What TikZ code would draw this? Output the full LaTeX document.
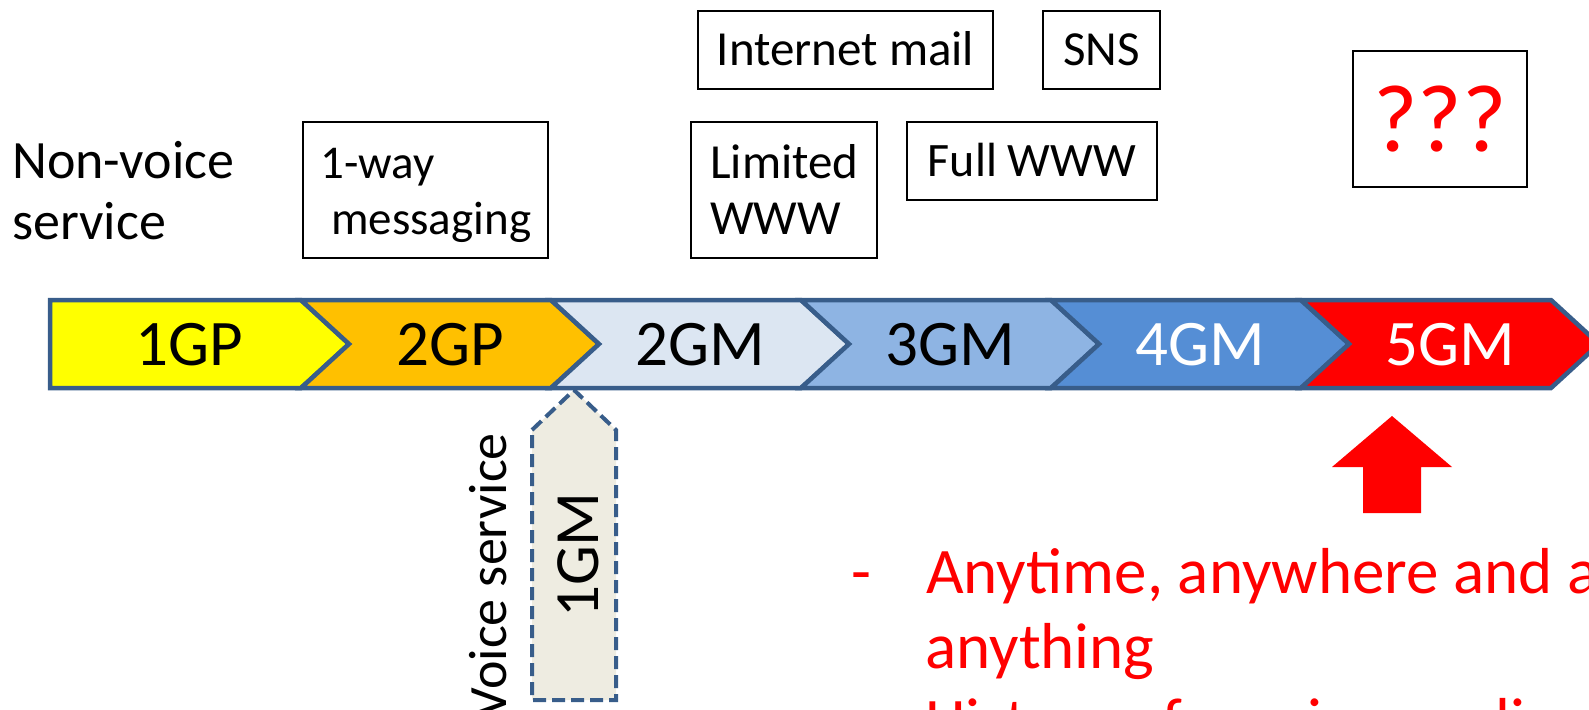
\documentclass[tikz,border=0pt]{standalone}
\usepackage{fontspec}
\setmainfont{Carlito}
\definecolor{edgeblue}{HTML}{385D8A}
\definecolor{cA}{HTML}{FFFF00}
\definecolor{cB}{HTML}{FFC000}
\definecolor{cC}{HTML}{DCE6F2}
\definecolor{cD}{HTML}{8EB4E3}
\definecolor{cE}{HTML}{558ED5}
\definecolor{cF}{HTML}{FF0000}
\definecolor{voicefill}{HTML}{EEECE1}
\newcommand{\myfs}[2]{\fontsize{#1}{#2}\selectfont}
\begin{document}
\begin{tikzpicture}[x=1pt,y=-1pt,
  chev/.style={draw=edgeblue, line width=4.5pt, line join=miter},
  svcbox/.style={draw=black, line width=2pt, inner sep=0pt},
  lbl/.style={inner sep=0pt, font=\myfs{49}{56}},
  smlbl/.style={inner sep=0pt, font=\myfs{47}{56}},
  biglbl/.style={inner sep=0pt, font=\myfs{54}{61}},
  barlbl/.style={inner sep=0pt, anchor=base, font=\myfs{65}{76}},
  redtxt/.style={inner sep=0pt, anchor=base west, text=red, font=\myfs{65}{75}},
]
\useasboundingbox (0,0) rectangle (1589,709);
\clip (0,0) rectangle (1589,709);

% generation bar
\draw[chev, fill=cA] (50,300) -- (301,300) -- (349,344) -- (301,388) -- (50,388) -- cycle;
\draw[chev, fill=cB] (301,300) -- (551,300) -- (599,344) -- (551,388) -- (301,388) -- (349,344) -- cycle;
\draw[chev, fill=cC] (551,300) -- (801,300) -- (849,344) -- (801,388) -- (551,388) -- (599,344) -- cycle;
\draw[chev, fill=cD] (801,300) -- (1051,300) -- (1099,344) -- (1051,388) -- (801,388) -- (849,344) -- cycle;
\draw[chev, fill=cE] (1051,300) -- (1301,300) -- (1349,344) -- (1301,388) -- (1051,388) -- (1099,344) -- cycle;
\draw[chev, fill=cF] (1301,300) -- (1551,300) -- (1599,344) -- (1551,388) -- (1301,388) -- (1349,344) -- cycle;

\node[barlbl] (g1) at (189,365) {1GP};
\node[barlbl] (g2) at (450,365) {2GP};
\node[barlbl] (g3) at (700,365) {2GM};
\node[barlbl] (g4) at (950,365) {3GM};
\node[barlbl, text=white] (g5) at (1200,365) {4GM};
\node[barlbl, text=white] (g6) at (1450,365) {5GM};

% voice service
\draw[draw=edgeblue, line width=4pt, dash pattern=on 13pt off 6pt, fill=voicefill]
  (532,430) -- (574,390) -- (616,430) -- (616,700) -- (532,700) -- cycle;
\node[rotate=90, anchor=base, inner sep=0pt, font=\myfs{63}{74}] (v1) at (598,555) {1GM};
\node[rotate=90, anchor=base east, inner sep=0pt, font=\myfs{54}{61}] (vs) at (506,433) {Voice service};

% non-voice services
\node[biglbl, anchor=base west] (nv1) at (12,178) {Non-voice};
\node[biglbl, anchor=base west] (nv2) at (12,239) {service};
\node[svcbox, minimum width=245, minimum height=136] (oneway) at (425.5,190) {};
\node[smlbl, anchor=base west] (ow1) at (320,178) {1-way};
\node[smlbl, anchor=base west] (ow2) at (331,234) {messaging};
\node[svcbox, minimum width=186, minimum height=136] (limited) at (784,190) {};
\node[lbl, anchor=base west] (lim1) at (710,178) {Limited};
\node[lbl, anchor=base west] (lim2) at (710,234) {WWW};
\node[svcbox, font=\myfs{48}{56}, minimum width=250, minimum height=78, text height=31pt, text depth=0pt] (full) at (1032,161) {Full WWW};
\node[svcbox, lbl, minimum width=295, minimum height=78, text height=31pt, text depth=0pt] (mail) at (845.5,50) {Internet mail};
\node[svcbox, lbl, minimum width=117, minimum height=78, text height=31pt, text depth=0pt] (sns) at (1101.5,50) {SNS};
\node[svcbox, minimum width=174, minimum height=136] (qbox) at (1440,119) {};
\node[inner sep=0pt, anchor=base, text=red, font=\myfs{96}{110}] (qq) at (1440,151) {???};

% 5G arrow and text
\fill[red] (1392,416) -- (1452,467) -- (1421,467) -- (1421,513) -- (1363,513) -- (1363,467) -- (1332,467) -- cycle;
\node[redtxt] (dash) at (851,593) {-};
\node[redtxt] (b1) at (926,593) {Anytime, anywhere and anyone};
\node[redtxt] (b1b) at (925,668) {anything};
\node[redtxt] (b2) at (925,743) {History of service applications};
\end{tikzpicture}
\end{document}
